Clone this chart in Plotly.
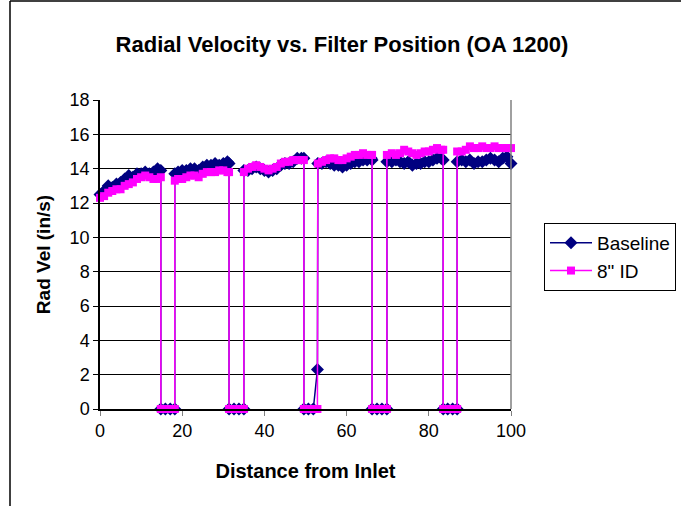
import plotly.graph_objects as go

# ---- data ----
seg1_x = [0, 1, 2, 3, 4, 5, 6, 7, 8, 9, 10, 11, 12, 13, 14, 14.8]
seg1_base = [12.5, 12.7, 13.0, 12.9, 13.1, 13.2, 13.4, 13.6, 13.5, 13.7, 13.7, 13.8, 13.7, 13.8, 14.0, 13.9]
seg1_id8 = [12.3, 12.4, 12.6, 12.7, 12.8, 12.8, 13.0, 13.1, 13.2, 13.4, 13.5, 13.6, 13.5, 13.4, 13.4, 13.5]

gap1_x = [14.8, 15.9, 17.1, 18.2]
gap1_base = [0, 0, 0, 0]
gap1_id8 = [0, 0, 0, 0]

seg2_x = [18.2, 19, 20, 21, 22, 23, 24, 25, 26, 27, 28, 29, 30, 31, 31.4]
seg2_base = [13.7, 13.8, 13.9, 13.9, 14.0, 14.0, 13.9, 14.1, 14.2, 14.2, 14.3, 14.2, 14.3, 14.4, 14.3]
seg2_id8 = [13.3, 13.4, 13.4, 13.5, 13.6, 13.6, 13.5, 13.7, 13.8, 13.8, 13.8, 13.9, 13.9, 13.8, 13.8]

gap2_x = [31.4, 32.6, 33.8, 35.0]
gap2_base = [0, 0, 0, 0]
gap2_id8 = [0, 0, 0, 0]

seg3_x = [35.0, 36, 37, 38, 39, 40, 41, 42, 43, 44, 45, 46, 47, 48, 49, 49.6]
seg3_base = [13.9, 13.9, 14.0, 14.1, 14.0, 13.9, 13.8, 13.9, 14.0, 14.2, 14.3, 14.3, 14.4, 14.6, 14.6, 14.6]
seg3_id8 = [13.8, 14.0, 14.1, 14.2, 14.1, 14.0, 13.9, 14.0, 14.1, 14.3, 14.4, 14.4, 14.5, 14.5, 14.5, 14.5]

gap3_x = [49.6, 50.7, 51.9, 52.9]
gap3_base = [0, 0, 0, 2.3]
gap3_id8 = [0, 0, 0, 0]

seg4_x = [53.0, 54, 55, 56, 57, 58, 59, 60, 61, 62, 63, 64, 65, 66, 66.2]
seg4_base = [14.3, 14.3, 14.4, 14.3, 14.2, 14.2, 14.1, 14.2, 14.3, 14.4, 14.4, 14.5, 14.5, 14.6, 14.5]
seg4_id8 = [14.3, 14.4, 14.5, 14.6, 14.6, 14.5, 14.5, 14.6, 14.7, 14.8, 14.8, 14.9, 14.8, 14.8, 14.8]

gap4_x = [66.2, 67.4, 68.6, 69.8]
gap4_base = [0, 0, 0, 0]
gap4_id8 = [0, 0, 0, 0]

seg5_x = [69.8, 71, 72, 73, 74, 75, 76, 77, 78, 79, 80, 81, 82, 83, 83.5]
seg5_base = [14.4, 14.4, 14.5, 14.4, 14.3, 14.4, 14.2, 14.3, 14.3, 14.4, 14.4, 14.5, 14.6, 14.6, 14.5]
seg5_id8 = [14.8, 14.9, 14.8, 14.9, 15.1, 15.0, 14.9, 14.8, 14.9, 15.0, 15.0, 15.1, 15.2, 15.1, 15.1]

gap5_x = [83.5, 84.6, 85.8, 86.9]
gap5_base = [0, 0, 0, 0]
gap5_id8 = [0, 0, 0, 0]

seg6_x = [86.9, 88, 89, 90, 91, 92, 93, 94, 95, 96, 97, 98, 99, 100]
seg6_base = [14.4, 14.5, 14.4, 14.5, 14.3, 14.4, 14.4, 14.5, 14.6, 14.5, 14.4, 14.6, 14.7, 14.3]
seg6_id8 = [15.0, 15.0, 15.1, 15.3, 15.2, 15.2, 15.3, 15.2, 15.2, 15.3, 15.2, 15.2, 15.2, 15.2]

x_ticks = [0, 20, 40, 60, 80, 100]
y_ticks = [0, 2, 4, 6, 8, 10, 12, 14, 16, 18]

# ---- assemble series ----
x_all = (seg1_x + gap1_x + seg2_x + gap2_x + seg3_x + gap3_x +
         seg4_x + gap4_x + seg5_x + gap5_x + seg6_x)
base_all = (seg1_base + gap1_base + seg2_base + gap2_base + seg3_base + gap3_base +
            seg4_base + gap4_base + seg5_base + gap5_base + seg6_base)
id8_all = (seg1_id8 + gap1_id8 + seg2_id8 + gap2_id8 + seg3_id8 + gap3_id8 +
           seg4_id8 + gap4_id8 + seg5_id8 + gap5_id8 + seg6_id8)

FONT = "Liberation Sans, Arial, sans-serif"

fig = go.Figure()
fig.add_trace(go.Scatter(
    x=x_all, y=base_all, mode="lines+markers", name="Baseline",
    line=dict(color="#000080", width=1.5),
    marker=dict(symbol="diamond", size=10, color="#000080"),
    cliponaxis=False,
))
fig.add_trace(go.Scatter(
    x=x_all, y=id8_all, mode="lines+markers", name='8" ID',
    line=dict(color="#FF00FF", width=1.5),
    marker=dict(symbol="square", size=8, color="#FF00FF"),
    cliponaxis=False,
))

L, R, T, B = 100, 170, 100, 97
W, H = 681, 506
pw, ph = W - L - R, H - T - B

def px_to_paper_x(px):
    return (px - L) / pw

def px_to_paper_y(py):
    return (H - B - py) / ph

shapes = [
    dict(type="line", xref="paper", yref="paper", x0=1, x1=1, y0=0, y1=1,
         line=dict(color="#808080", width=1.5)),
    dict(type="line", xref="paper", yref="paper",
         x0=px_to_paper_x(10), x1=px_to_paper_x(10),
         y0=px_to_paper_y(506), y1=px_to_paper_y(1),
         line=dict(color="#000000", width=1.5)),
    dict(type="line", xref="paper", yref="paper",
         x0=px_to_paper_x(10), x1=px_to_paper_x(690),
         y0=px_to_paper_y(1), y1=px_to_paper_y(1),
         line=dict(color="#000000", width=1.5)),
]

fig.update_layout(
    width=W, height=H,
    margin=dict(l=L, r=R, t=T, b=B, autoexpand=False),
    paper_bgcolor="white", plot_bgcolor="white",
    font=dict(family=FONT, color="black", size=18),
    title=dict(text="<b>Radial Velocity vs. Filter Position (OA 1200)</b>",
               x=342 / W, xanchor="center", y=1 - 44 / H, yanchor="middle",
               font=dict(size=22, family=FONT, color="black")),
    xaxis=dict(range=[0, 100], tickvals=x_ticks, ticks="outside", ticklen=5,
               tickcolor="#808080", showgrid=False, showline=True,
               linecolor="black", linewidth=1.5, zeroline=False,
               tickfont=dict(size=18),
               title=dict(text="<b>Distance from Inlet</b>", standoff=24,
                          font=dict(size=20)),
               automargin=False),
    yaxis=dict(range=[0, 18], tickvals=y_ticks, ticks="outside", ticklen=5,
               tickcolor="black", showgrid=True, gridcolor="black", gridwidth=1,
               showline=True, linecolor="black", linewidth=1.5, zeroline=False,
               tickfont=dict(size=18),
               title=dict(text="<b>Rad Vel (in/s)</b>", standoff=14,
                          font=dict(size=19)),
               automargin=False),
    legend=dict(x=px_to_paper_x(544), xanchor="left",
                y=px_to_paper_y(223), yanchor="top",
                bordercolor="black", borderwidth=1, bgcolor="white",
                font=dict(size=19, family=FONT), itemwidth=42),
    shapes=shapes,
)

fig.write_html("out.html")
